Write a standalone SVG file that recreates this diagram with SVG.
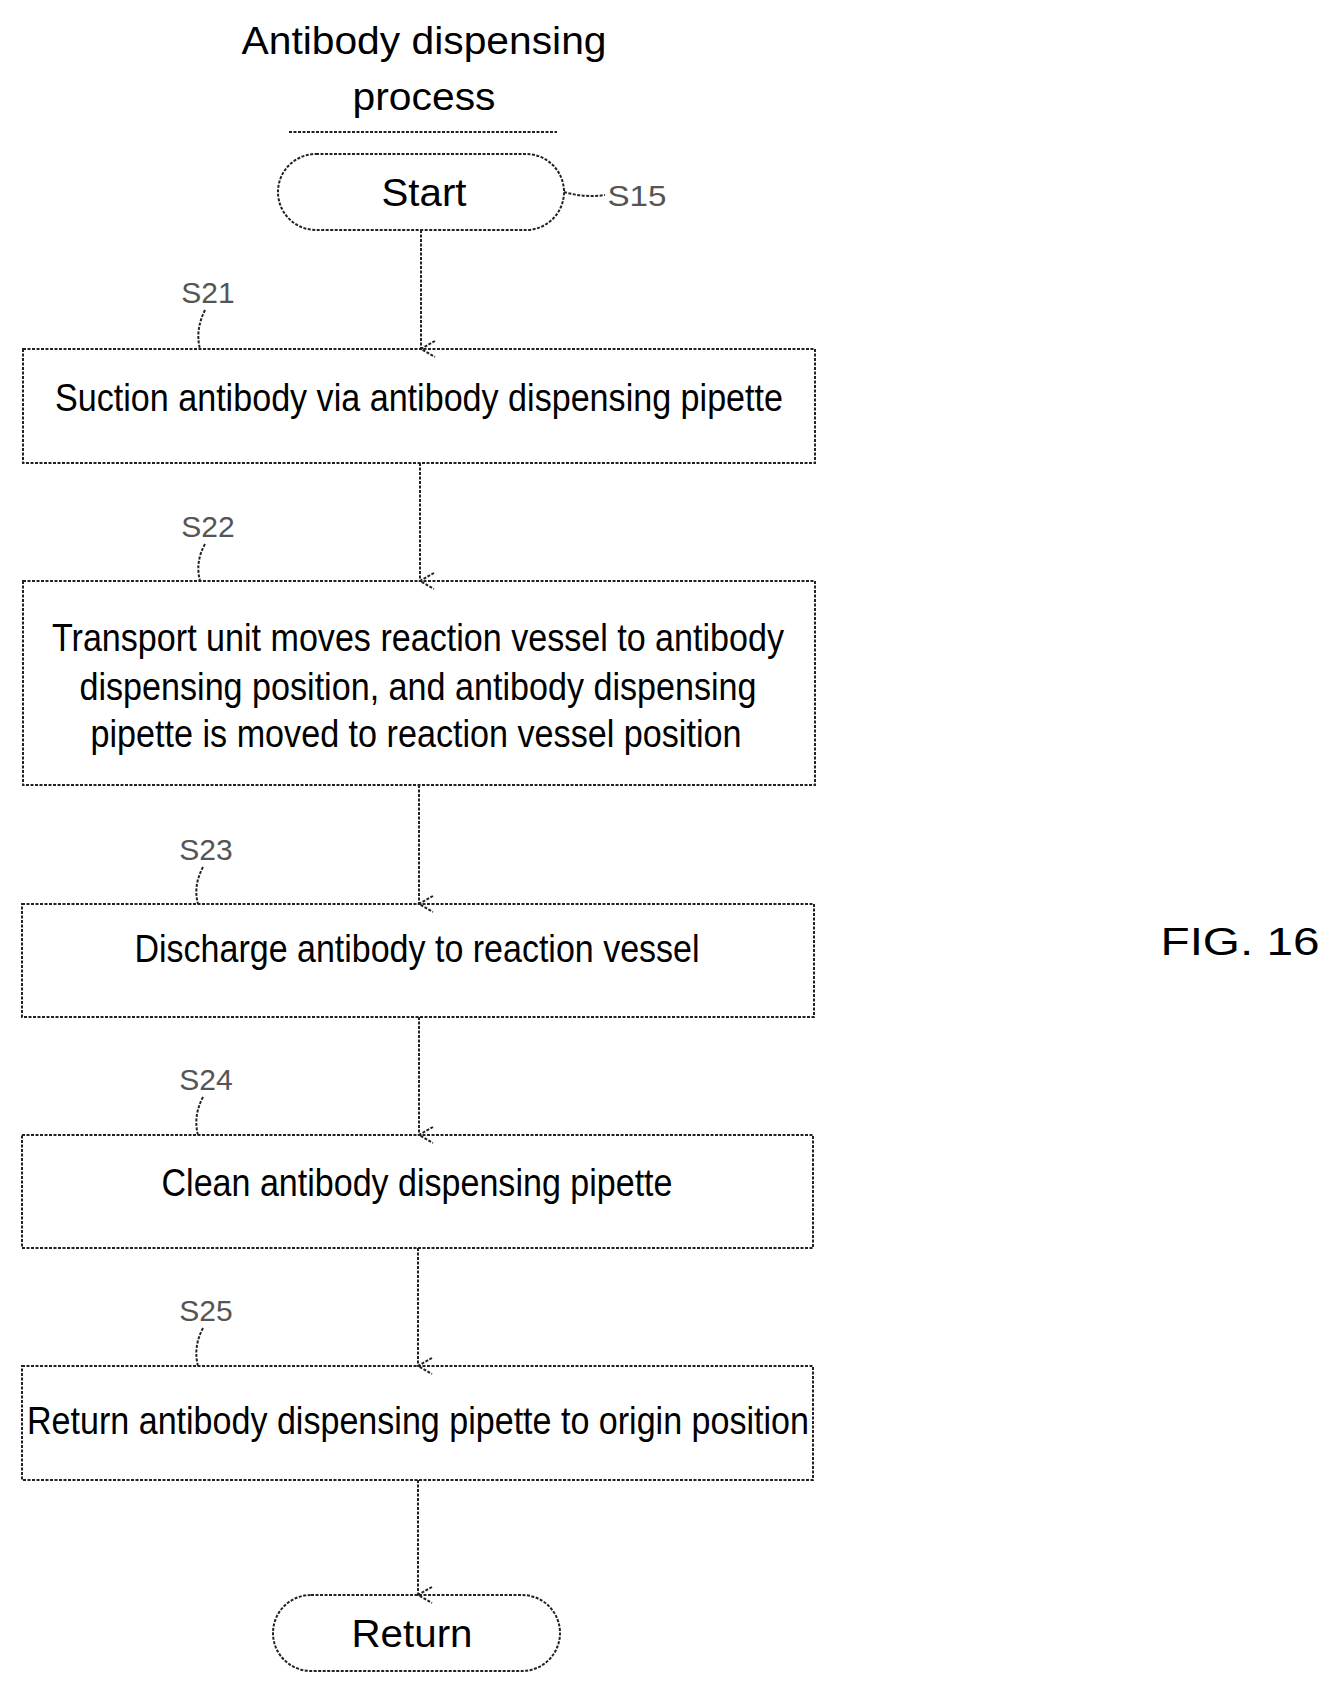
<svg xmlns="http://www.w3.org/2000/svg" width="1339" height="1694" viewBox="0 0 1339 1694">
<style>
.b{fill:none;stroke:#222;stroke-width:2;stroke-dasharray:3 1.5}
.t{font-family:"Liberation Sans",Arial,sans-serif;font-size:38px;fill:#000;text-anchor:middle;dominant-baseline:central}
.l{font-family:"Liberation Sans",Arial,sans-serif;font-size:30px;fill:#555;text-anchor:middle;dominant-baseline:central}
</style>
<defs><marker id="a" markerWidth="20" markerHeight="20" refX="10" refY="18" orient="auto" markerUnits="userSpaceOnUse" viewBox="0 0 20 20"><path d="M2 4 L10 18 L18 4" fill="none" stroke="#222" stroke-width="2" stroke-dasharray="3 1.5"/></marker></defs>
<rect width="1339" height="1694" fill="#fff"/>
<g id="title"><text class="t" x="424" y="41" font-size="44" textLength="365" lengthAdjust="spacingAndGlyphs">Antibody dispensing</text><text class="t" x="424" y="97" font-size="44" textLength="143" lengthAdjust="spacingAndGlyphs">process</text><line class="b" x1="289" y1="132" x2="557" y2="132"/></g>
<g id="start"><rect class="b" x="278" y="154" width="286" height="76" rx="38"/><text class="t" x="424" y="193" font-size="44" textLength="85" lengthAdjust="spacingAndGlyphs">Start</text><path class="b" d="M564 192 Q585 198 605 195"/><text class="l" x="637" y="195" textLength="59" lengthAdjust="spacingAndGlyphs">S15</text></g>
<g id="s21"><rect class="b" x="23" y="349" width="792" height="114"/><text class="t" x="419" y="398" textLength="728" lengthAdjust="spacingAndGlyphs">Suction antibody via antibody dispensing pipette</text><text class="l" x="208" y="292">S21</text><path class="b" d="M205 310 Q195 330 200 349"/></g>
<g id="s22"><rect class="b" x="23" y="581" width="792" height="204"/><text class="t" x="418" y="638" textLength="732" lengthAdjust="spacingAndGlyphs">Transport unit moves reaction vessel to antibody</text><text class="t" x="418" y="687" textLength="677" lengthAdjust="spacingAndGlyphs">dispensing position, and antibody dispensing</text><text class="t" x="416" y="734" textLength="651" lengthAdjust="spacingAndGlyphs">pipette is moved to reaction vessel position</text><text class="l" x="208" y="526">S22</text><path class="b" d="M205 544 Q195 562 200 581"/></g>
<g id="s23"><rect class="b" x="22" y="904" width="792" height="113"/><text class="t" x="417" y="949" textLength="565" lengthAdjust="spacingAndGlyphs">Discharge antibody to reaction vessel</text><text class="l" x="206" y="849">S23</text><path class="b" d="M203 867 Q193 886 198 904"/></g>
<g id="s24"><rect class="b" x="22" y="1135" width="791" height="113"/><text class="t" x="417" y="1183" textLength="511" lengthAdjust="spacingAndGlyphs">Clean antibody dispensing pipette</text><text class="l" x="206" y="1079">S24</text><path class="b" d="M203 1097 Q193 1116 198 1135"/></g>
<g id="s25"><rect class="b" x="22" y="1366" width="791" height="114"/><text class="t" x="418" y="1421" textLength="782" lengthAdjust="spacingAndGlyphs">Return antibody dispensing pipette to origin position</text><text class="l" x="206" y="1310">S25</text><path class="b" d="M203 1328 Q193 1347 198 1366"/></g>
<g id="return"><rect class="b" x="273" y="1595" width="287" height="76" rx="38"/><text class="t" x="412" y="1634" font-size="46" textLength="121" lengthAdjust="spacingAndGlyphs">Return</text></g>
<g id="fig"><text class="t" x="1240" y="942" font-size="52" textLength="159" lengthAdjust="spacingAndGlyphs">FIG. 16</text></g>
<g id="connectors">
<line class="b" x1="421" y1="230" x2="421" y2="349" marker-end="url(#a)"/>
<line class="b" x1="420" y1="463" x2="420" y2="581" marker-end="url(#a)"/>
<line class="b" x1="419" y1="785" x2="419" y2="904" marker-end="url(#a)"/>
<line class="b" x1="419" y1="1017" x2="419" y2="1135" marker-end="url(#a)"/>
<line class="b" x1="418" y1="1248" x2="418" y2="1366" marker-end="url(#a)"/>
<line class="b" x1="418" y1="1480" x2="418" y2="1595" marker-end="url(#a)"/>
</g>
</svg>
